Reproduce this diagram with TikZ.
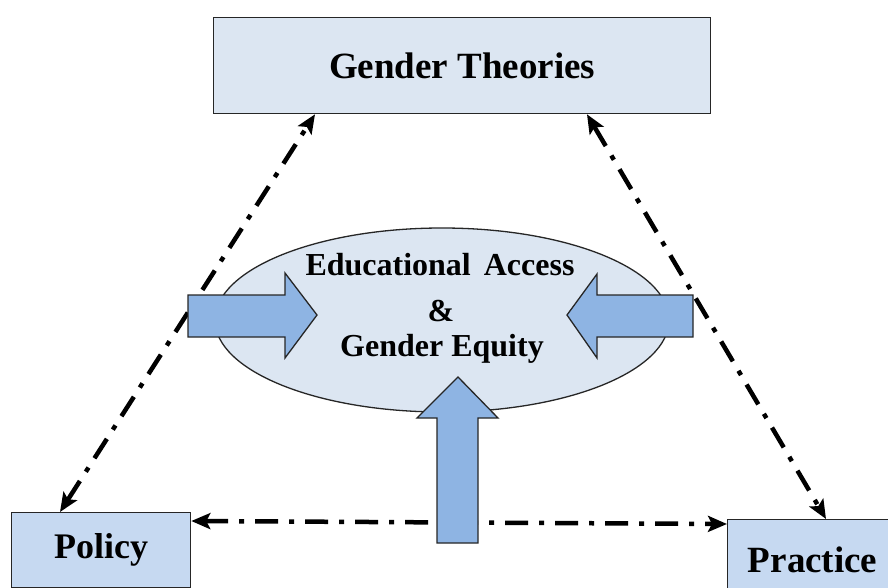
\documentclass[tikz,border=0pt]{standalone}
\usepackage{fontspec}
\setmainfont{Liberation Serif}
\usetikzlibrary{arrows.meta,shapes.geometric}
\definecolor{lightfill}{HTML}{DCE6F2}
\definecolor{boxfill}{HTML}{C6D9F1}
\definecolor{arrowfill}{HTML}{8EB4E3}
\begin{document}
\begin{tikzpicture}[x=1pt,y=-1pt,
  box/.style={draw=black!85, line width=1.3pt, inner sep=0pt, anchor=north west},
  lbl/.style={font=\bfseries\fontsize{37}{42}\selectfont},
  ctext/.style={font=\bfseries\fontsize{32}{40}\selectfont, anchor=base, inner sep=0pt},
  link/.style={line width=4.5pt, dash pattern=on 23pt off 11pt on 5pt off 11pt,
    {Stealth[length=19pt,width=16pt,inset=4pt]}-{Stealth[length=19pt,width=16pt,inset=4pt]}},
  block/.style={draw=black!85, line width=1.3pt, fill=arrowfill, line join=miter}]
\useasboundingbox (0,0) rectangle (888,588);
\fill[white] (0,0) rectangle (888,588);

% boxes
\node[box, fill=lightfill, minimum width=497pt, minimum height=96pt, lbl] (gt) at (213,17) {Gender Theories};
\node[box, fill=boxfill, minimum width=179pt, minimum height=75pt, lbl, font=\bfseries\fontsize{36}{40}\selectfont] (policy) at (11,512) {Policy};
\node[box, fill=boxfill, minimum width=170pt, minimum height=80pt, lbl] (practice) at (727,519) {Practice};

% connector end points on the box borders
\coordinate (p1) at ([xshift=49pt]policy.north west);
\coordinate (g1) at ([xshift=102pt]gt.south west);
\coordinate (g2) at ([xshift=374pt]gt.south west);
\coordinate (r1) at ([xshift=99pt]practice.north west);
\coordinate (p2) at ([yshift=-9pt]policy.north east);
\coordinate (r2) at ([yshift=-5pt]practice.north west);

% dash-dot connectors
\draw[link] (p1) -- (g1);
\draw[link] (g2) -- (r1);
\draw[link] (p2) -- (r2);

% central ellipse
\node[ellipse, draw=black!85, line width=1.3pt, fill=lightfill, minimum width=454pt, minimum height=184pt] (core) at (442,320) {};

% block arrows
\draw[block] (188,295) -- (285,295) -- (285,273) -- (317,315) -- (285,358) -- (285,337) -- (188,337) -- cycle;
\draw[block] (693,295) -- (597,295) -- (597,274) -- (567,315) -- (597,358) -- (597,337) -- (693,337) -- cycle;
\draw[block] (437,543) -- (437,418) -- (417,418) -- (458,377) -- (498,418) -- (478,418) -- (478,543) -- cycle;

% centre text
\node[ctext] (t1) at (440,275) {Educational\hspace{5pt} Access};
\node[ctext] (t2) at (441,321) {\&};
\node[ctext] (t3) at (442,356) {Gender Equity};
\end{tikzpicture}
\end{document}
